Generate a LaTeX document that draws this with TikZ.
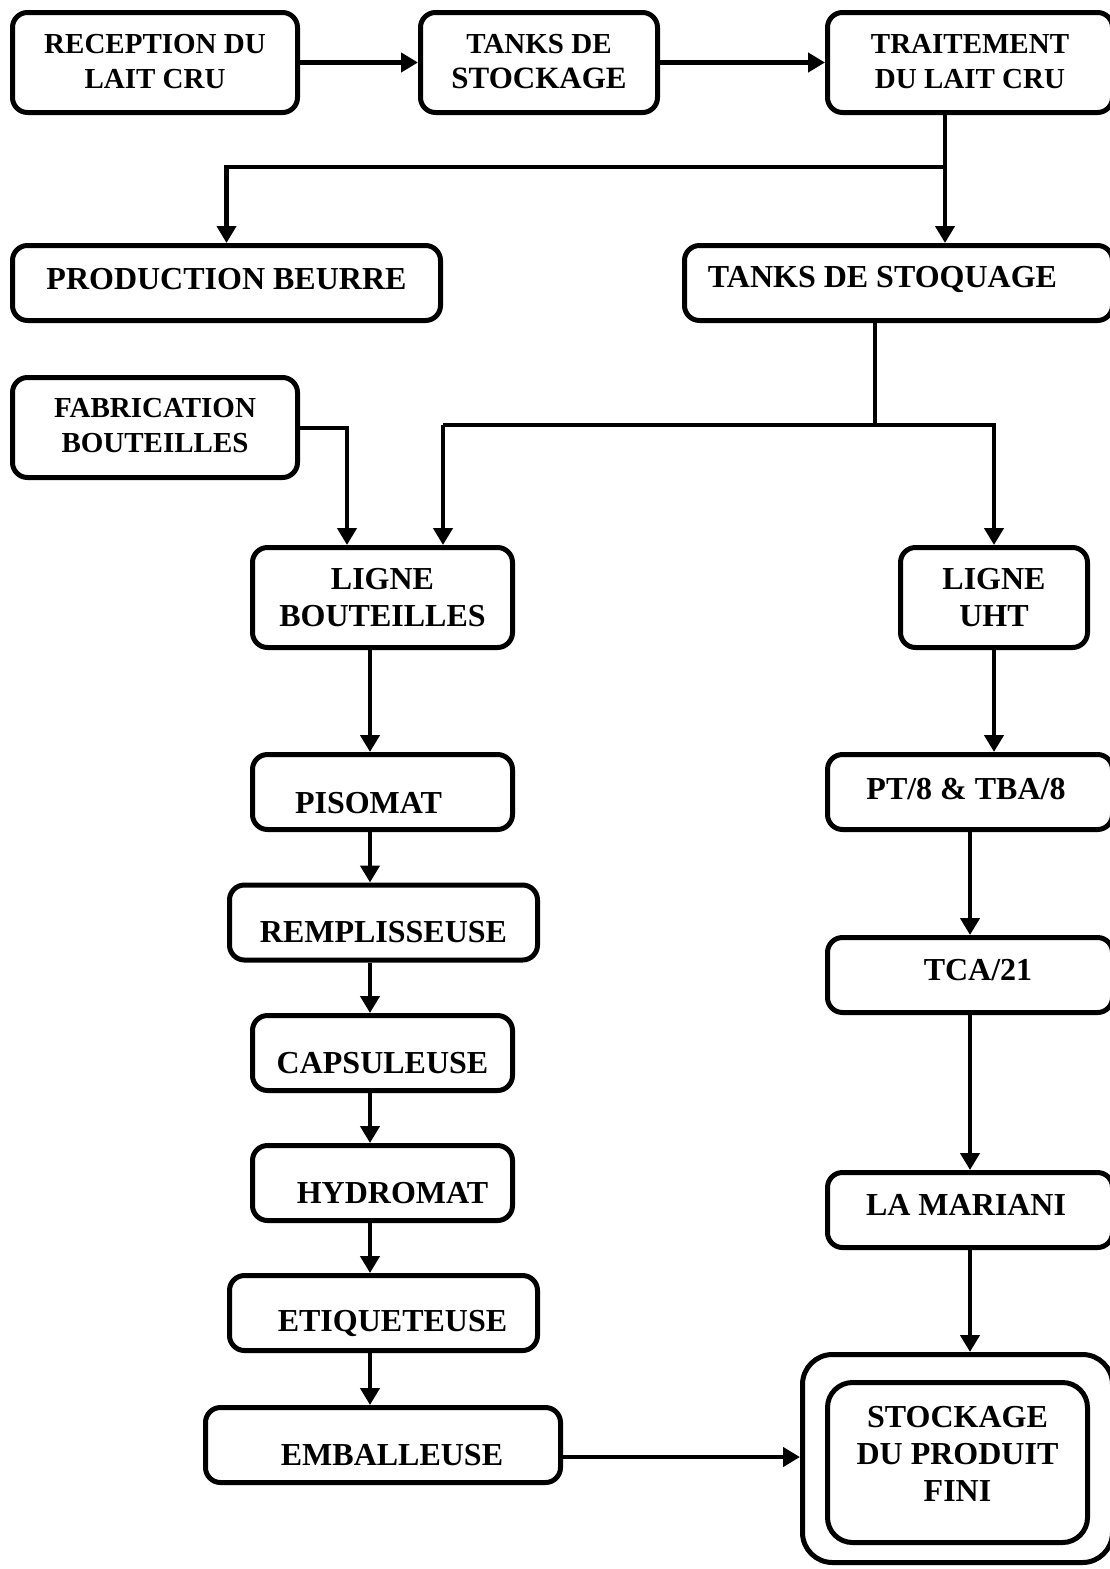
\documentclass[tikz,border=0pt]{standalone}
\usepackage{fontspec}
\setmainfont{Liberation Serif}
\usetikzlibrary{arrows.meta}

\tikzset{
  box/.style={draw, line width=5pt, rounded corners=15pt, inner sep=0pt},
  txt/.style={font=\fontsize{29}{35}\selectfont\bfseries, align=center, inner sep=0pt},
  txtbig/.style={font=\fontsize{32}{37}\selectfont\bfseries, align=center, inner sep=0pt},
  arr/.style={line width=4.5pt, -{Triangle[length=17pt,width=19pt]}},
  wire/.style={line width=4.5pt}
}

\begin{document}
\begin{tikzpicture}[x=1pt, y=-1pt]
  \useasboundingbox (0,0) rectangle (1110,1569);
  % top row
  \node[box, minimum width=285pt, minimum height=100pt, label={[txt, yshift=1pt]center:RECEPTION DU\\LAIT CRU}] (rec) at (155,62.5) {};
  \node[box, minimum width=237pt, minimum height=100pt, label={[txt, yshift=1pt]center:TANKS DE\\{\fontsize{31}{35}\selectfont STOCKAGE}}] (tsk) at (539,62.5) {};
  \node[box, minimum width=285pt, minimum height=100pt, label={[txt, yshift=1pt]center:TRAITEMENT\\DU LAIT CRU}] (trt) at (970,62.5) {};
  % second row
  \node[box, minimum width=428pt, minimum height=75pt, label={[txtbig, yshift=4pt]center:PRODUCTION BEURRE}] (beu) at (226.5,283) {};
  \node[box, minimum width=428pt, minimum height=75pt, label={[txtbig, xshift=-16pt, yshift=4pt]center:TANKS DE STOQUAGE}] (sto) at (898.5,283) {};
  \node[box, minimum width=285pt, minimum height=100pt, label={[txt, yshift=2pt]center:FABRICATION\\BOUTEILLES}] (fab) at (155,427.5) {};
  % the two lines
  \node[box, minimum width=260pt, minimum height=100pt, label={[txtbig]center:LIGNE\\BOUTEILLES}] (lbo) at (382.5,597.5) {};
  \node[box, minimum width=187pt, minimum height=100pt, label={[txtbig]center:LIGNE\\UHT}] (uht) at (994,597.5) {};
  % bottle line machines
  \node[box, minimum width=260pt, minimum height=75pt, label={[txtbig, xshift=-14pt, yshift=-11pt]center:PISOMAT}] (pis) at (382.5,792) {};
  \node[box, minimum width=308pt, minimum height=75pt, label={[txtbig, yshift=-10pt]center:REMPLISSEUSE}] (rem) at (383.5,922.5) {};
  \node[box, minimum width=260pt, minimum height=75pt, label={[txtbig, yshift=-10pt]center:CAPSULEUSE}] (cap) at (382.5,1053) {};
  \node[box, minimum width=260pt, minimum height=75pt, label={[txtbig, xshift=10pt, yshift=-10pt]center:HYDROMAT}] (hyd) at (382.5,1183) {};
  \node[box, minimum width=308pt, minimum height=75pt, label={[txtbig, xshift=9pt, yshift=-10pt]center:ETIQUETEUSE}] (eti) at (383.5,1313) {};
  \node[box, minimum width=355pt, minimum height=75pt, label={[txtbig, xshift=9pt, yshift=-10pt]center:EMBALLEUSE}] (emb) at (383,1445) {};
  % UHT line machines
  \node[box, minimum width=285pt, minimum height=75pt, label={[txtbig, xshift=-4pt, yshift=3pt]center:PT/8 \& TBA/8}] (pt8) at (970,792) {};
  \node[box, minimum width=285pt, minimum height=75pt, label={[txtbig, xshift=8pt, yshift=5pt]center:TCA/21}] (tca) at (970,975) {};
  \node[box, minimum width=285pt, minimum height=75pt, label={[txtbig, xshift=-4pt, yshift=5pt]center:LA MARIANI}] (mar) at (970,1210) {};
  % final storage
  \node[box, minimum width=310pt, minimum height=208pt, rounded corners=30pt] (out) at (957.5,1458.5) {};
  \node[box, minimum width=260pt, minimum height=160pt, rounded corners=25pt, label={[txtbig, yshift=9pt]center:STOCKAGE\\DU PRODUIT\\FINI}] (fin) at (957.5,1462.5) {};

  % junction points
  \coordinate (j1) at (945,167);
  \coordinate (j2) at (875,425);
  \coordinate (j3) at (443,425);
  \coordinate (j4) at (347,428);
  \coordinate (cl) at (370,0);
  \coordinate (cr) at (970,0);
  \coordinate (je) at (0,1457);

  % connectors
  \draw[arr] (rec.east) -- (tsk.west);
  \draw[arr] (tsk.east) -- (trt.west);
  \draw[arr] (j1 |- trt.south) -- (j1 |- sto.north);
  \draw[arr] (j1) -| (beu.north);
  \draw[wire] (j2 |- sto.south) -- (j2);
  \draw[arr] (j3) -| (uht.north);
  \draw[arr] (j3) -- (j3 |- lbo.north);
  \draw[arr] (fab.east |- j4) -| (j4 |- lbo.north);
  \foreach \a/\b in {lbo/pis, pis/rem, rem/cap, cap/hyd, hyd/eti, eti/emb}
    \draw[arr] (cl |- \a.south) -- (cl |- \b.north);
  \draw[arr] (uht.south) -- (uht.south |- pt8.north);
  \foreach \a/\b in {pt8/tca, tca/mar, mar/out}
    \draw[arr] (cr |- \a.south) -- (cr |- \b.north);
  \draw[arr] (emb.east |- je) -- (out.west |- je);
\end{tikzpicture}
\end{document}
